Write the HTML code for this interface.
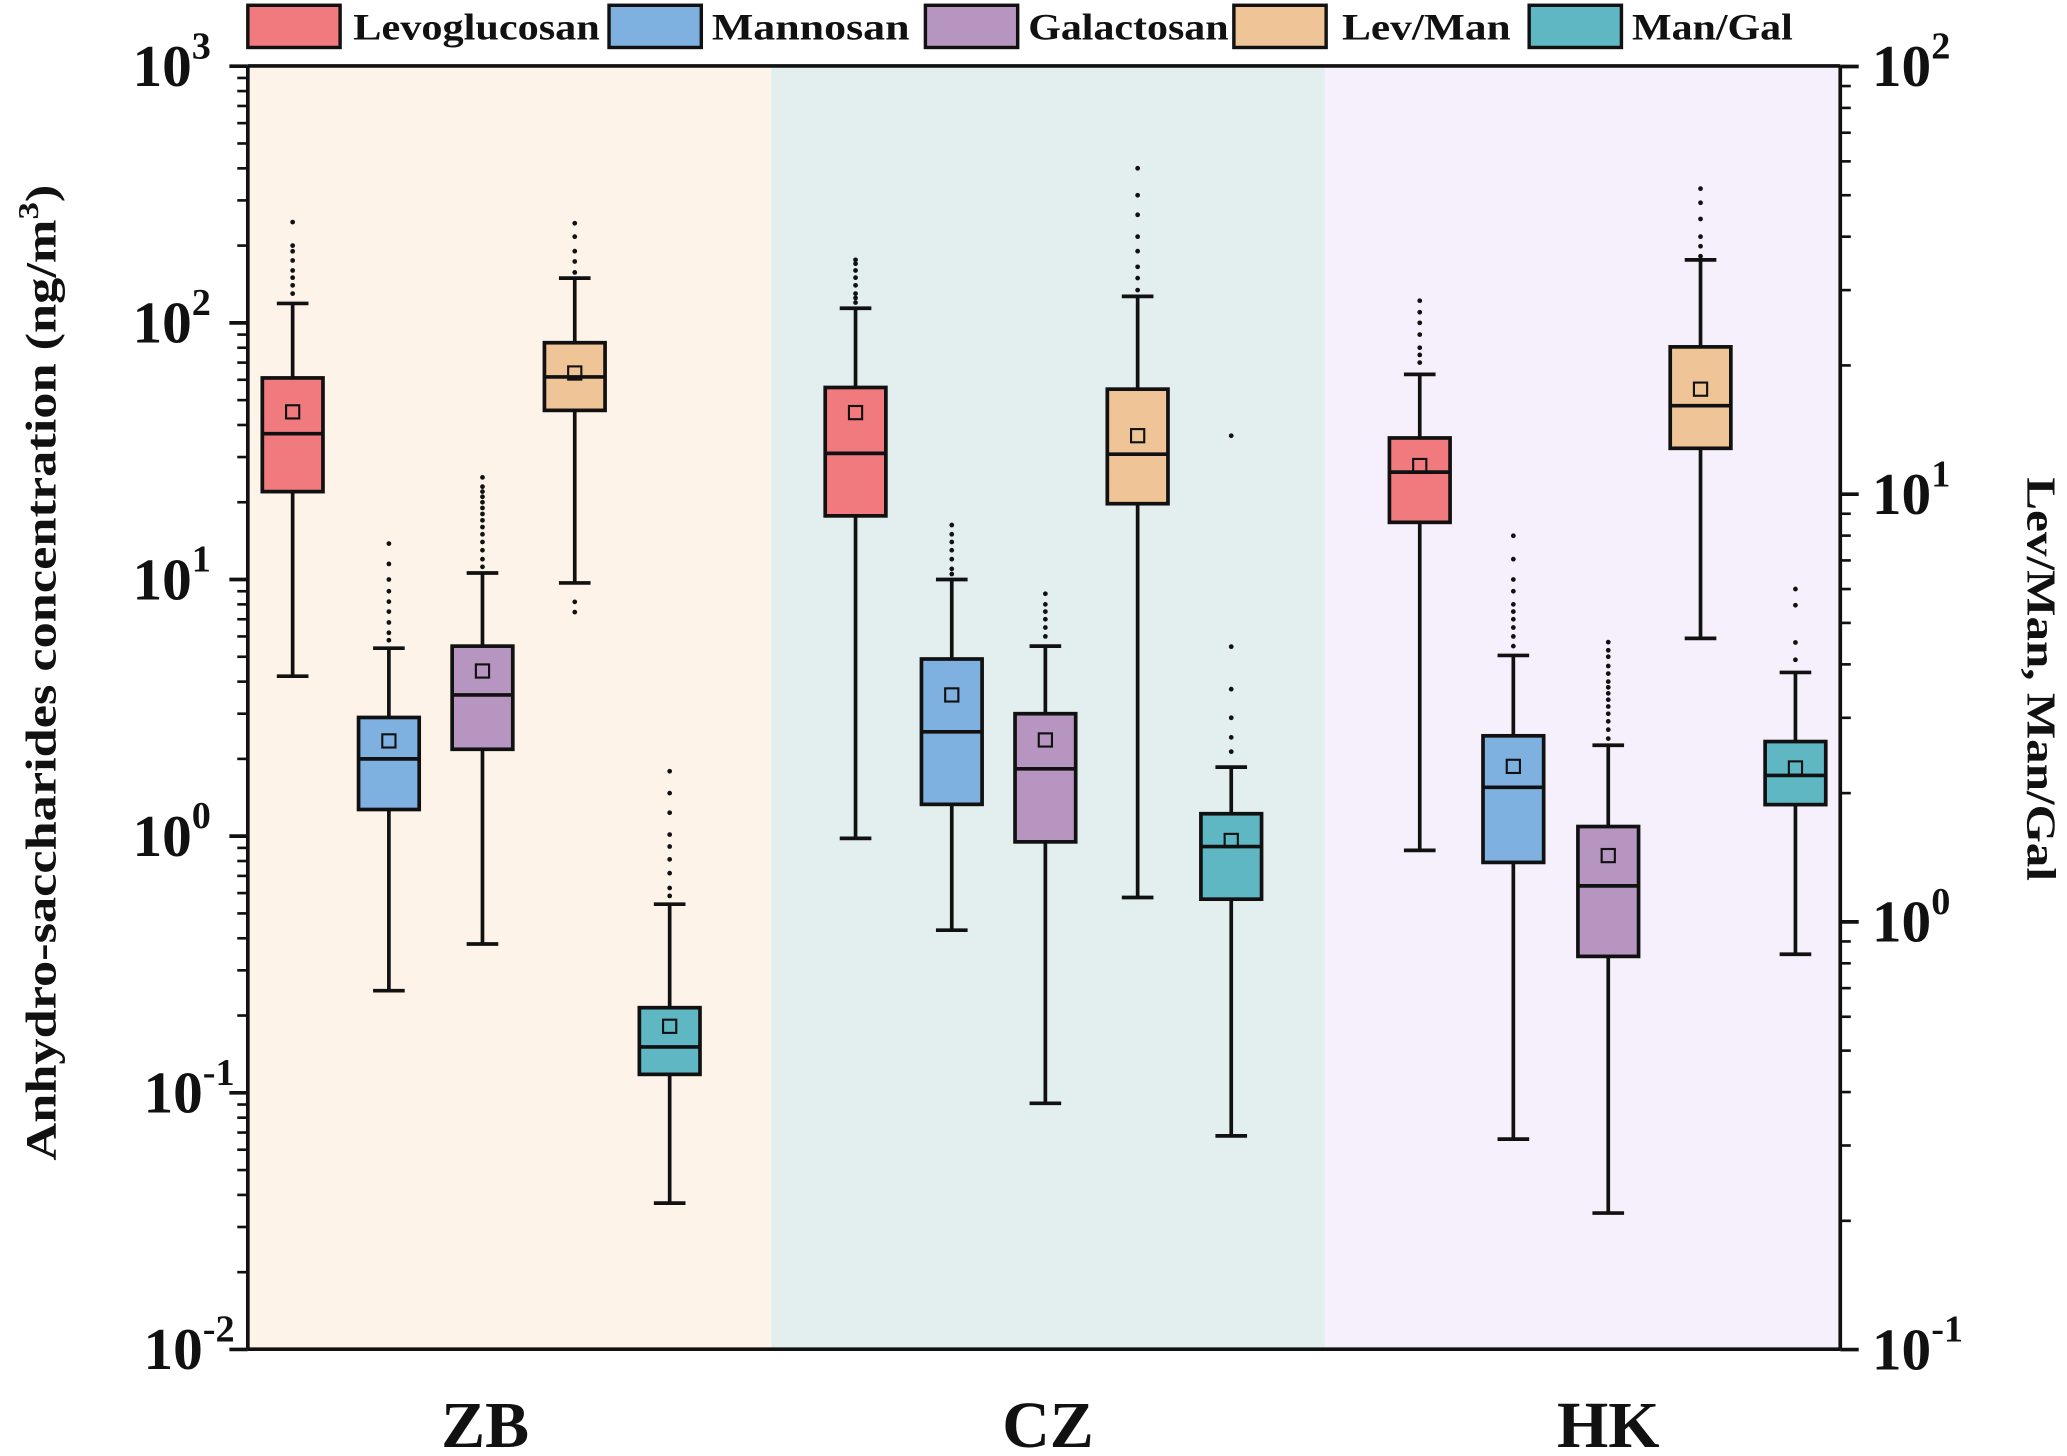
<!DOCTYPE html>
<html><head><meta charset="utf-8"><style>
html,body{margin:0;padding:0;background:#fff;}
svg{display:block;}
text{font-family:"Liberation Serif",serif;font-weight:bold;fill:#111;}
</style></head><body>
<svg id="chart" width="2067" height="1456" viewBox="0 0 1568 1104" preserveAspectRatio="none" xmlns="http://www.w3.org/2000/svg">
<g id="bg"></g><g id="axes"></g><g id="marks"></g><g id="legend"></g>
</svg>
<script>
const sites = ["ZB","CZ","HK"];
const series = ["Levoglucosan","Mannosan","Galactosan","Lev/Man","Man/Gal"];
const seriesAxis = ["left","left","left","right","right"];
const colors = ["#f07a7e","#7eb0e0","#b695c0","#efc496","#5fb7c4"];
// [whiskerLow, Q1, median, Q3, whiskerHigh, mean] per site, per series
const levStats = [[4.2,22,37,61,119,45],[0.98,17.7,31,56,114,44.7],[0.88,16.7,26.2,35.6,63,27.8]];
const manStats = [[0.25,1.27,2.0,2.9,5.4,2.35],[0.43,1.33,2.55,4.9,10,3.55],[0.066,0.79,1.55,2.46,5.06,1.87]];
const galStats = [[0.38,2.18,3.55,5.5,10.6,4.4],[0.091,0.95,1.83,3.0,5.5,2.37],[0.034,0.34,0.64,1.09,2.26,0.84]];
const lmStats = [[6.2,15.7,18.8,22.6,32,19.2],[1.14,9.5,12.4,17.6,29,13.7],[4.6,12.8,16.1,22.1,35.3,17.6]];
const mgStats = [[0.22,0.44,0.51,0.63,1.10,0.57],[0.316,1.13,1.5,1.79,2.3,1.55],[0.84,1.88,2.2,2.64,3.83,2.29]];
const levOut = [[130,140,150,160,175,190,200,247],[120,125,130,140,150,160,170,176],[70,75,80,90,100,110,122]];
const manOut = [[5.8,6.2,6.8,7.5,8.2,9,10,11.5,13.8],[10.5,11,12,13,14,15,16.3],[5.5,6,6.5,7,7.5,8,9,10,12,14.8]];
const galOut = [[11.2,12,13,14,15,16,17,18,19,20,21,22,23,25],[6,6.5,7,7.5,8,8.8],[2.4,2.6,2.8,3,3.2,3.4,3.6,3.8,4,4.3,4.6,5,5.3,5.7]];
const lmOut = [[33,35,37,40,43,5.3,5.6],[30,32,34,37,40,45,50,57.8],[36,38,40,44,48,51.8]];
const mgOut = [[1.15,1.2,1.3,1.4,1.5,1.6,1.8,2.0,2.25],[2.5,2.7,3,3.5,4.4,13.7],[4.1,4.5,5.5,6.0]];
const allStats = [levStats,manStats,galStats,lmStats,mgStats];
const allOut = [levOut,manOut,galOut,lmOut,mgOut];
const leftTicks = ["-2","-1","0","1","2","3"];
const rightTicks = ["-1","0","1","2"];

const NS="http://www.w3.org/2000/svg";
const X0=188,X1=1396,YT=50,YB=1023;
function yL(v){return 634-194.6*Math.log10(v);}
function yR(v){return 699-324.3*Math.log10(v);}
const siteBounds=[[188,585],[585,1005],[1005,1396]];
const siteBg=["#fdf3e9","#e3eeee","#f5f0fb"];
const siteLabelX=[368,795,1220];
const siteCenters=[[222,295,366,436,508],[649,722,793,863,934],[1077,1148,1220,1290,1362]];
function el(tag,attrs,parent){const e=document.createElementNS(NS,tag);for(const k in attrs)e.setAttribute(k,attrs[k]);parent.appendChild(e);return e;}
const bg=document.getElementById('bg'),axes=document.getElementById('axes'),marks=document.getElementById('marks'),leg=document.getElementById('legend');
sites.forEach((s,i)=>{
  const r=el('rect',{x:siteBounds[i][0],y:YT,width:siteBounds[i][1]-siteBounds[i][0],height:YB-YT,fill:siteBg[i]},bg);
  
  
  const t=el('text',{x:siteLabelX[i],y:1097,'font-size':50,'text-anchor':'middle'},axes);
  t.textContent=s;
  
  
});
allStats.forEach((st,si)=>{
  const f=seriesAxis[si]==="left"?yL:yR;
  sites.forEach((s,k)=>{
    const d=st[k],cx=siteCenters[k][si],w=23;
    const g=el('g',{},marks);
    
    
    el('line',{x1:cx,x2:cx,y1:f(d[4]),y2:f(d[3]),stroke:'#111','stroke-width':2.8},g);
    el('line',{x1:cx,x2:cx,y1:f(d[1]),y2:f(d[0]),stroke:'#111','stroke-width':2.8},g);
    el('line',{x1:cx-12,x2:cx+12,y1:f(d[4]),y2:f(d[4]),stroke:'#111','stroke-width':2.8},g);
    el('line',{x1:cx-12,x2:cx+12,y1:f(d[0]),y2:f(d[0]),stroke:'#111','stroke-width':2.8},g);
    el('rect',{x:cx-w,y:f(d[3]),width:2*w,height:f(d[1])-f(d[3]),fill:colors[si],stroke:'#111','stroke-width':2.8},g);
    el('line',{x1:cx-w,x2:cx+w,y1:f(d[2]),y2:f(d[2]),stroke:'#111','stroke-width':2.8},g);
    el('rect',{x:cx-5,y:f(d[5])-5,width:10,height:10,fill:'none',stroke:'#111','stroke-width':1.6},g);
    allOut[si][k].forEach(v=>{el('circle',{cx:cx,cy:f(v),r:1.8,fill:'#111'},g);});
  });
});
function line(a,p){return el('line',Object.assign({stroke:'#111','stroke-width':2.8},a),p);}
const frame=[line({x1:X0,x2:X1,y1:YT,y2:YT},axes),line({x1:X0,x2:X1,y1:YB,y2:YB},axes),line({x1:X0,x2:X0,y1:YT,y2:YB},axes),line({x1:X1,x2:X1,y1:YT,y2:YB},axes)];
frame.forEach(l=>{});
leftTicks.forEach(e=>{
  const p=+e,y=yL(Math.pow(10,p));
  line({x1:X0-14,x2:X0,y1:y,y2:y},axes);
  const t=el('text',{x:e.length>1?178:160,y:y+15,'font-size':45,'text-anchor':'end'},axes);
  t.textContent='10';
  const sup=el('tspan',{dy:-21,'font-size':29},t);sup.textContent=e;
  
  
  if(p<3)for(let m=2;m<10;m++){const yy=yL(m*Math.pow(10,p));line({x1:X0-8,x2:X0,y1:yy,y2:yy,'stroke-width':2},axes);}
});
rightTicks.forEach(e=>{
  const p=+e,y=yR(Math.pow(10,p));
  line({x1:X1,x2:X1+14,y1:y,y2:y},axes);
  const t=el('text',{x:1420,y:y+15,'font-size':45},axes);
  t.textContent='10';
  const sup=el('tspan',{dy:-21,'font-size':29},t);sup.textContent=e;
  
  
  if(p<2)for(let m=2;m<10;m++){const yy=yR(m*Math.pow(10,p));line({x1:X1,x2:X1+8,y1:yy,y2:yy,'stroke-width':2},axes);}
});
const lt=el('text',{x:0,y:0,'font-size':33,'text-anchor':'middle',textLength:740,lengthAdjust:'spacingAndGlyphs',transform:'translate(42,510) rotate(-90)'},axes);
lt.innerHTML='Anhydro-saccharides concentration (ng/m<tspan dy="-13" font-size="22">3</tspan><tspan dy="13">)</tspan>';


const rt=el('text',{x:0,y:0,'font-size':31,'text-anchor':'middle',textLength:306,lengthAdjust:'spacingAndGlyphs',transform:'translate(1538,515) rotate(90)'},axes);
rt.textContent='Lev/Man, Man/Gal';


const legX=[[188,268,187],[462,540,150],[702,780,152],[936,1018,128],[1160,1238,122]];
series.forEach((s,i)=>{
  const g=el('g',{},leg);
  
  
  el('rect',{x:legX[i][0],y:4,width:70,height:32,fill:colors[i],stroke:'#111','stroke-width':2.6},g);
  const t=el('text',{x:legX[i][1],y:30,'font-size':28,textLength:legX[i][2],lengthAdjust:'spacingAndGlyphs'},g);t.textContent=s;
});
</script>
</body></html>
